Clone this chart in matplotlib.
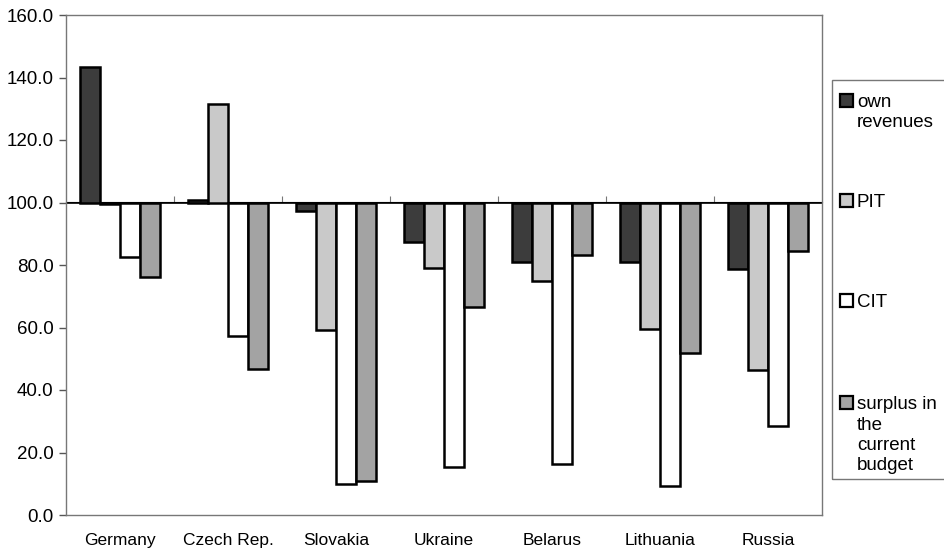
import numpy as np
import matplotlib.pyplot as plt
from matplotlib.patches import Rectangle

plt.rcParams['font.family'] = ['Liberation Sans', 'DejaVu Sans']

countries = ["Germany", "Czech Rep.", "Slovakia", "Ukraine", "Belarus", "Lithuania", "Russia"]
own_revenues = [143.3, 100.8, 97.2, 87.3, 81.1, 80.9, 78.7]
pit = [99.5, 131.5, 59.3, 78.9, 74.9, 59.5, 46.4]
cit = [82.6, 57.4, 9.8, 15.5, 16.3, 9.3, 28.6]
surplus = [76.1, 46.7, 10.9, 66.7, 83.3, 51.7, 84.5]

series = [
    ("own\nrevenues", own_revenues, "#3c3c3c"),
    ("PIT", pit, "#c9c9c9"),
    ("CIT", cit, "#ffffff"),
    ("surplus in\nthe\ncurrent\nbudget", surplus, "#a3a3a3"),
]

base = 100.0
fig = plt.figure(figsize=(9.45, 5.51), dpi=100)
ax = fig.add_axes([66 / 945, 36 / 551, 756 / 945, 500 / 551])

x = np.arange(len(countries))
w = 0.185
for k, (name, vals, col) in enumerate(series):
    vals = np.array(vals)
    ax.bar(x + (k - 1.5) * w, vals - base, bottom=base, width=w,
           color=col, edgecolor="black", linewidth=1.8, zorder=3)

ax.set_xlim(-0.5, len(countries) - 0.5)
ax.set_ylim(0, 160)
ax.set_yticks(np.arange(0, 161, 20))
ax.set_yticklabels([f"{v:.1f}" for v in np.arange(0, 161, 20)], fontsize=13.5)
ax.set_xticks(x)
ax.set_xticklabels(countries, fontsize=12.5)
ax.tick_params(axis="x", length=0, pad=13)
ax.tick_params(axis="y", length=5, width=1, color="#555555", pad=4)

for s in ax.spines.values():
    s.set_color("#777777")
    s.set_linewidth(1)

# category axis crossing at 100
ax.axhline(base, color="black", linewidth=1.2, zorder=2)
sec = ax.secondary_xaxis(base / 160)
sec.set_xticks(np.arange(0.5, len(countries) - 1, 1.0))
sec.set_xticklabels([])
sec.tick_params(length=4, color="#777777", direction="out")
sec.spines["bottom"].set_visible(False)

# legend box (drawn by hand, entries spread over the box height)
lx0, ly0, lx1, ly1 = 832, 80, 948, 479
fig.add_artist(Rectangle((lx0 / 945, 1 - ly1 / 551), (lx1 - lx0) / 945, (ly1 - ly0) / 551,
                         transform=fig.transFigure, fill=False, edgecolor="#777777", linewidth=1))
baselines = [107, 207, 307, 409]
line_step = 20.5
for (name, vals, col), by in zip(series, baselines):
    fig.add_artist(Rectangle((840 / 945, 1 - by / 551), 13 / 945, 13 / 551,
                             transform=fig.transFigure, facecolor=col, edgecolor="black", linewidth=1.6))
    for i, line in enumerate(name.split("\n")):
        fig.text(857 / 945, 1 - (by + i * line_step) / 551, line, fontsize=13.5,
                 va="baseline", ha="left")

fig.savefig("out.png", dpi=100)
